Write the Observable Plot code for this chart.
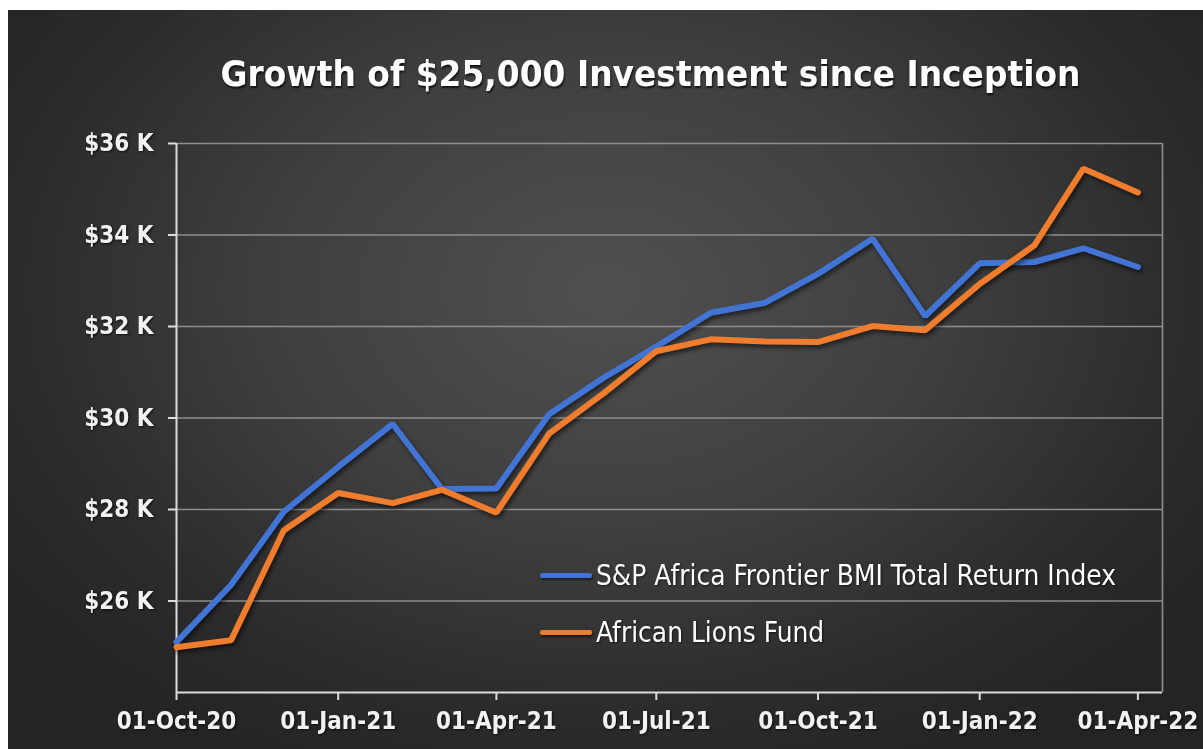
<!DOCTYPE html>
<html>
<head>
<meta charset="utf-8">
<script src="https://cdn.jsdelivr.net/npm/d3@7"></script>
<script src="https://cdn.jsdelivr.net/npm/@observablehq/plot@0.6"></script>
<style>
  html, body { margin: 0; padding: 0; background: #ffffff; }
  #page { position: relative; width: 1203px; height: 749px; overflow: hidden; }
  #bg { position: absolute; left: 8px; top: 10px; width: 1195px; height: 739px;
        background: radial-gradient(ellipse 62% 72% at 50% 38%, #505050 0%, #3f3f3f 45%, #2b2b2b 80%, #242424 100%); }
  #title { position: absolute; left: 150px; width: 1000px; top: 57px; text-align: center;
           color: #ffffff; font-family: "DejaVu Sans", sans-serif; font-weight: bold; font-size: 35px; line-height: 1;
           text-shadow: 1px 2px 2px rgba(0,0,0,0.7); white-space: nowrap; }
  #title span { display: inline-block; transform-origin: 50% 50%; }
  #chart { position: absolute; left: 0; top: 0; }
  #chart svg text { filter: drop-shadow(1px 1px 1px rgba(0,0,0,0.7)); }
  #chart g[aria-label="line"] path { filter: drop-shadow(2px 3px 2px rgba(0,0,0,0.55)); }
  .leg { position: absolute; left: 540px; height: 40px; display: flex; align-items: center; white-space: nowrap;
         color: #ffffff; font-family: "Liberation Sans Narrow", "DejaVu Sans Condensed", "DejaVu Sans", sans-serif;
         font-stretch: condensed; font-size: 29px; }
  .leg .sw { width: 52px; height: 5px; border-radius: 2px; margin-right: 4px; box-shadow: 1px 2px 2px rgba(0,0,0,0.5); }
  .leg .tx { display: inline-block; transform-origin: 0 50%; text-shadow: 1px 1px 2px rgba(0,0,0,0.6); }
</style>
</head>
<body>
<div id="page">
  <div id="bg"></div>
  <div id="title"><span>Growth of $25,000 Investment since Inception</span></div>
  <div id="chart"></div>
  <div id="legend"></div>
</div>
<script>
// ---- data ----
const dates = ["2020-10-01","2020-11-01","2020-12-01","2021-01-01","2021-02-01","2021-03-01","2021-04-01",
  "2021-05-01","2021-06-01","2021-07-01","2021-08-01","2021-09-01","2021-10-01","2021-11-01","2021-12-01",
  "2022-01-01","2022-02-01","2022-03-01","2022-04-01"];
const spAfrica = [25100, 26350, 27950, 28930, 29870, 28450, 28460, 30080, 30880, 31560, 32300, 32520,
  33150, 33920, 32230, 33380, 33410, 33710, 33300];
const lionsFund = [24990, 25140, 27540, 28360, 28140, 28430, 27930, 29660, 30540, 31460, 31720, 31670,
  31660, 32010, 31920, 32930, 33770, 35450, 34930];
const seriesNames = ["S&P Africa Frontier BMI Total Return Index", "African Lions Fund"];
const seriesColors = ["#4174d4", "#ef7d2d"];
const xTicks = ["2020-10-01","2021-01-01","2021-04-01","2021-07-01","2021-10-01","2022-01-01","2022-04-01"];
const xDomain = ["2020-10-01", "2022-04-15"];
const yDomain = [24000, 36000];
const yTicks = [26000, 28000, 30000, 32000, 34000, 36000];

const parse = d3.utcParse("%Y-%m-%d");
const rows = [];
[spAfrica, lionsFund].forEach((vals, s) => {
  vals.forEach((v, i) => rows.push({date: parse(dates[i]), value: v, series: seriesNames[s]}));
});
const fmtDate = d3.utcFormat("%d-%b-%y");

const tickFont = "'Liberation Sans Narrow', 'DejaVu Sans Condensed', 'DejaVu Sans', sans-serif";

const chart = Plot.plot({
  width: 1203,
  height: 749,
  marginLeft: 176,
  marginRight: 41,
  marginTop: 143,
  marginBottom: 57,
  style: {background: "transparent", color: "#f2f2f2", fontFamily: tickFont, fontSize: "24px", fontWeight: "bold", fontStretch: "condensed"},
  x: {type: "utc", domain: xDomain.map(parse), label: null},
  y: {domain: yDomain, label: null},
  color: {domain: seriesNames, range: seriesColors},
  marks: [
    Plot.ruleY(yTicks, {stroke: "#8e8e8e", strokeWidth: 1.6}),
    Plot.ruleX([parse(xDomain[1])], {stroke: "#8e8e8e", strokeWidth: 1.6}),
    Plot.ruleX([parse(xDomain[0])], {stroke: "#dcdcdc", strokeWidth: 2, y1: yDomain[0], y2: yDomain[1]}),
    Plot.ruleY([yDomain[0]], {stroke: "#dcdcdc", strokeWidth: 2}),
    Plot.axisY({ticks: yTicks, tickSize: 8, tickPadding: 15, tickFormat: d => `$${d / 1000} K`, stroke: "#dcdcdc", strokeWidth: 2}),
    Plot.axisX({ticks: xTicks.map(parse), tickSize: 8, tickPadding: 11, tickFormat: fmtDate, stroke: "#dcdcdc", strokeWidth: 2}),
    Plot.line(rows, {x: "date", y: "value", z: "series", stroke: "series", strokeWidth: 6, strokeLinejoin: "miter", strokeLinecap: "round"})
  ]
});
document.getElementById("chart").appendChild(chart);

// ---- legend ----
const legendTops = [555, 612];
const legend = document.getElementById("legend");
seriesNames.forEach((name, i) => {
  const row = document.createElement("div");
  row.className = "leg";
  row.style.top = legendTops[i] + "px";
  const sw = document.createElement("div");
  sw.className = "sw";
  sw.style.background = seriesColors[i];
  const tx = document.createElement("span");
  tx.className = "tx";
  tx.textContent = name;
  row.appendChild(sw); row.appendChild(tx);
  legend.appendChild(row);
});
// fit text widths to the reference's proportions
const firstTx = legend.querySelector(".tx");
const k = 520 / firstTx.getBoundingClientRect().width;
legend.querySelectorAll(".tx").forEach(t => t.style.transform = `scaleX(${k})`);
const tspan = document.querySelector("#title span");
tspan.style.transform = `scaleX(${860 / tspan.getBoundingClientRect().width})`;
</script>
</body>
</html>
